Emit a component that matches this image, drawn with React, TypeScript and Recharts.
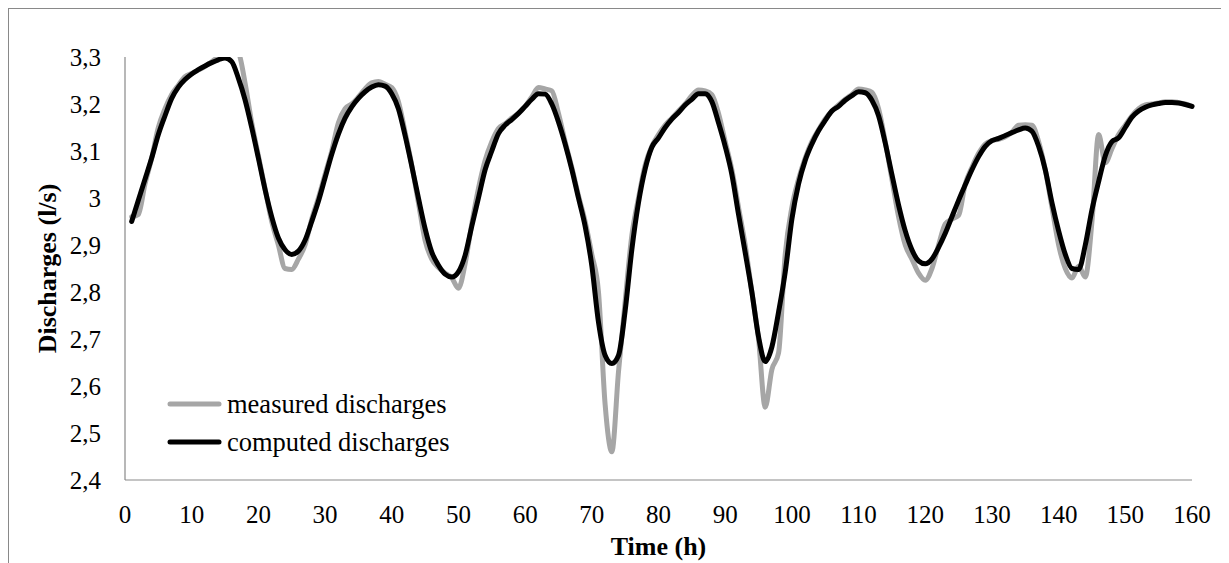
import React from 'react';
import { LineChart, Line, XAxis, YAxis, Legend, Label } from 'recharts';

const hours: number[] = Array.from({ length: 160 }, (_, i) => i + 1);

const measured: number[] = [
  2.96, 2.965, 3.03, 3.085, 3.15, 3.19, 3.22, 3.24, 3.258, 3.265,
  3.272, 3.28, 3.29, 3.3, 3.305, 3.32, 3.31, 3.245, 3.16, 3.09,
  3.02, 2.95, 2.9, 2.85, 2.848, 2.87, 2.9, 2.955, 3.0, 3.05,
  3.1, 3.16, 3.19, 3.2, 3.215, 3.232, 3.245, 3.248, 3.242, 3.235,
  3.205, 3.14, 3.07, 2.99, 2.91, 2.87, 2.852, 2.84, 2.83, 2.808,
  2.86, 2.945, 3.02, 3.08, 3.12, 3.148, 3.158, 3.17, 3.18, 3.195,
  3.215, 3.235, 3.232, 3.228, 3.18, 3.12, 3.065, 3.005, 2.95, 2.88,
  2.8, 2.56, 2.46, 2.63, 2.78, 2.92, 3.0, 3.07, 3.11, 3.135,
  3.155, 3.17, 3.185, 3.2, 3.218, 3.23, 3.228, 3.22, 3.18, 3.12,
  3.06, 2.98, 2.9, 2.8, 2.7, 2.555, 2.635, 2.67, 2.88, 2.98,
  3.04, 3.085, 3.12, 3.145, 3.168, 3.185, 3.198, 3.21, 3.22, 3.232,
  3.23, 3.225, 3.19, 3.12, 3.04, 2.96, 2.9, 2.87, 2.84, 2.825,
  2.85, 2.9, 2.945, 2.955, 2.963, 3.03, 3.065, 3.095, 3.115, 3.122,
  3.125, 3.13, 3.14, 3.155, 3.156, 3.155, 3.12, 3.06, 2.98, 2.9,
  2.85, 2.83, 2.855, 2.832, 2.95, 3.135, 3.075, 3.105, 3.135, 3.155,
  3.175, 3.19, 3.198, 3.2, 3.202, 3.205, 3.205, 3.203, 3.2, 3.195,
];

const computed: number[] = [
  2.95, 2.995, 3.04, 3.085, 3.135, 3.175, 3.212, 3.236, 3.252, 3.264,
  3.273, 3.281, 3.288, 3.294, 3.298, 3.29, 3.255, 3.209, 3.15, 3.085,
  3.018, 2.96, 2.915, 2.89, 2.88, 2.887, 2.91, 2.95, 2.993, 3.043,
  3.093, 3.136, 3.17, 3.194, 3.212, 3.226, 3.236, 3.241, 3.238, 3.222,
  3.19, 3.133, 3.068, 3.0, 2.935, 2.885, 2.857, 2.838, 2.832, 2.843,
  2.878, 2.94, 3.0, 3.06, 3.1, 3.137, 3.155, 3.167, 3.18, 3.195,
  3.21, 3.222, 3.221, 3.2, 3.162, 3.115, 3.061, 3.0, 2.94, 2.856,
  2.736, 2.665, 2.648, 2.665, 2.76, 2.89, 2.99, 3.062, 3.108, 3.128,
  3.15, 3.168, 3.182, 3.198, 3.21, 3.222, 3.222, 3.205, 3.16, 3.11,
  3.05, 2.965, 2.884, 2.8, 2.705, 2.652, 2.683, 2.757, 2.842, 2.955,
  3.03, 3.08, 3.115, 3.143, 3.165, 3.185, 3.195, 3.208, 3.218, 3.226,
  3.224, 3.208, 3.175, 3.117, 3.05, 2.985, 2.93, 2.89, 2.866, 2.86,
  2.87, 2.895, 2.925, 2.96, 2.995, 3.028, 3.06, 3.088, 3.11, 3.122,
  3.127, 3.133, 3.139, 3.145, 3.149, 3.142, 3.11, 3.06, 2.99, 2.93,
  2.88, 2.85, 2.848, 2.9, 2.975, 3.035, 3.09, 3.12, 3.128, 3.15,
  3.172, 3.185, 3.193, 3.198, 3.201, 3.203, 3.203, 3.202, 3.199, 3.195,
];

const xTicks: number[] = [0, 10, 20, 30, 40, 50, 60, 70, 80, 90, 100, 110, 120, 130, 140, 150, 160];
const yTicks: number[] = [2.4, 2.5, 2.6, 2.7, 2.8, 2.9, 3.0, 3.1, 3.2, 3.3];

const seriesNames = { measured: 'measured discharges', computed: 'computed discharges' };
const legendOrder: string[] = [seriesNames.measured, seriesNames.computed];
const xTitle = 'Time (h)';
const yTitle = 'Discharges (l/s)';

const data = hours.map((t, i) => ({ t, measured: measured[i], computed: computed[i] }));

const FONT = '"Times New Roman", "Liberation Serif", serif';
const AXIS_COLOR = '#898989';

const fmtY = (v: number) => String(Math.round(v * 10) / 10).replace('.', ',');

const renderLegend = (props: any) => {
  const payload = [...(props.payload || [])].sort(
    (a: any, b: any) => legendOrder.indexOf(a.value) - legendOrder.indexOf(b.value)
  );
  return (
    <div>
      {payload.map((p: any) => (
        <div key={p.value} style={{ display: 'flex', alignItems: 'center', height: 38 }}>
          <svg width={55} height={8} style={{ display: 'block' }}>
            <line x1={3} y1={4} x2={52} y2={4} stroke={p.color} strokeWidth={5} strokeLinecap="round" />
          </svg>
          <span style={{ marginLeft: 5, fontFamily: FONT, fontSize: 26.5, color: '#000', lineHeight: '38px' }}>
            {p.value}
          </span>
        </div>
      ))}
    </div>
  );
};

export default function App() {
  return (
    <div
      style={{
        width: 1220,
        height: 555,
        boxSizing: 'border-box',
        borderTop: `1px solid ${AXIS_COLOR}`,
        borderLeft: `1px solid ${AXIS_COLOR}`,
        borderRight: `1px solid ${AXIS_COLOR}`,
        background: '#fff',
      }}
    >
      <LineChart width={1218} height={554} data={data} margin={{ top: 48, right: 35, bottom: 0, left: 0 }}>
        <XAxis
          dataKey="t"
          type="number"
          domain={[0, 160]}
          ticks={xTicks}
          interval={0}
          height={83}
          tickLine={false}
          tickSize={0}
          tickMargin={25}
          axisLine={{ stroke: AXIS_COLOR, strokeWidth: 1.2 }}
          tick={{ fill: '#000', fontFamily: FONT, fontSize: 25 }}
        >
          <Label
            content={(lp: any) => {
              const vb = lp.viewBox || { x: 116, width: 1067 };
              return (
                <text
                  x={vb.x + vb.width / 2}
                  y={546}
                  textAnchor="middle"
                  fontFamily={FONT}
                  fontSize={26}
                  fontWeight="bold"
                  fill="#000"
                >
                  {xTitle}
                </text>
              );
            }}
          />
        </XAxis>
        <YAxis
          type="number"
          domain={[2.4, 3.3]}
          ticks={yTicks}
          interval={0}
          allowDataOverflow
          width={116}
          tickLine={false}
          tickSize={0}
          tickMargin={24}
          tickFormatter={fmtY}
          axisLine={{ stroke: AXIS_COLOR, strokeWidth: 1.2 }}
          tick={{ fill: '#000', fontFamily: FONT, fontSize: 25 }}
        >
          <Label
            content={(lp: any) => {
              const vb = lp.viewBox || { y: 48, height: 423 };
              const cy = vb.y + vb.height / 2;
              return (
                <text
                  transform={`translate(38, ${cy}) rotate(-90)`}
                  textAnchor="middle"
                  dominantBaseline="central"
                  fontFamily={FONT}
                  fontSize={26}
                  fontWeight="bold"
                  fill="#000"
                >
                  {yTitle}
                </text>
              );
            }}
          />
        </YAxis>
        <Legend
          layout="vertical"
          align="center"
          verticalAlign="middle"
          content={renderLegend}
          wrapperStyle={{ position: 'absolute', left: 158, top: 376, width: 'auto', height: 'auto' }}
        />
        <Line
          type="monotone"
          dataKey="measured"
          name={seriesNames.measured}
          stroke="#A6A6A6"
          strokeWidth={5}
          strokeLinecap="round"
          strokeLinejoin="round"
          dot={false}
          activeDot={false}
          isAnimationActive={false}
        />
        <Line
          type="monotone"
          dataKey="computed"
          name={seriesNames.computed}
          stroke="#000000"
          strokeWidth={5}
          strokeLinecap="round"
          strokeLinejoin="round"
          dot={false}
          activeDot={false}
          isAnimationActive={false}
        />
      </LineChart>
    </div>
  );
}
